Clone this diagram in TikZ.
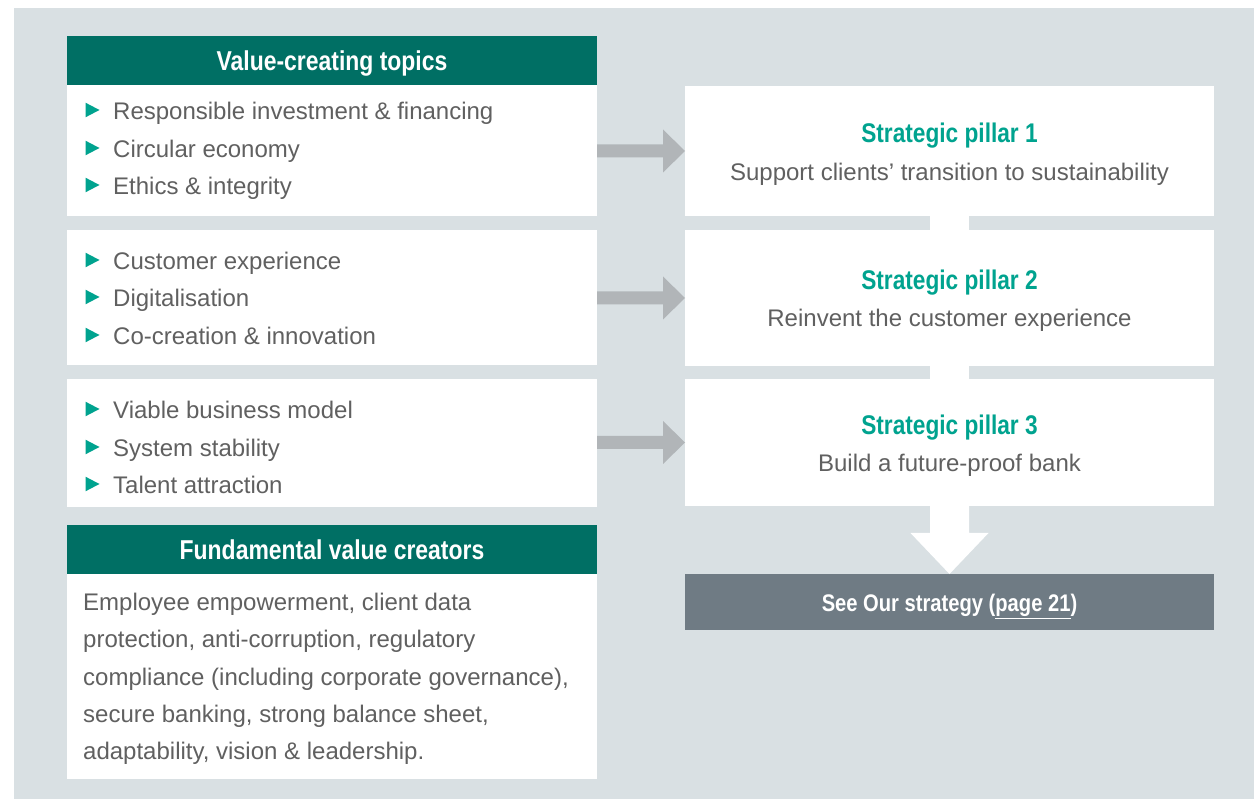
\documentclass[tikz,border=0pt]{standalone}
\usepackage{fontspec}
\setmainfont{Liberation Sans}
\newfontfamily\condfont[FakeStretch=0.84]{Liberation Sans}
\usetikzlibrary{calc}

\definecolor{panelbg}{RGB}{217,224,227}
\definecolor{headteal}{RGB}{0,111,100}
\definecolor{accent}{RGB}{0,163,143}
\definecolor{arrowgrey}{RGB}{177,181,184}
\definecolor{slate}{RGB}{111,123,132}
\definecolor{bodytext}{RGB}{96,96,96}

\tikzset{
  panel/.style={fill=white, inner sep=0pt, outer sep=0pt, anchor=north west},
  bodytxt/.style={font=\fontsize{24}{28}\selectfont, text=bodytext, inner sep=0pt, anchor=base west},
  subtxt/.style={font=\fontsize{24}{28}\selectfont, text=bodytext, inner sep=0pt, anchor=base},
  headtxt/.style={font=\condfont\bfseries\fontsize{27.3}{30}\selectfont, text=white, inner sep=0pt, anchor=base},
  pillartitle/.style={font=\condfont\bfseries\fontsize{27}{30}\selectfont, text=accent, inner sep=0pt, anchor=base},
  linktxt/.style={font=\condfont\bfseries\fontsize{24}{26}\selectfont, text=white, inner sep=0pt, anchor=base},
}

% horizontal block arrow from a topic box to its pillar
\newcommand\flowarrow[2]{%
  \fill[arrowgrey] ($(#1.east |- #2.west)+(0,-6.5)$) -- ($(#2.west)+(-22,-6.5)$)
    -- ($(#2.west)+(-22,-21.5)$) -- (#2.west) -- ($(#2.west)+(-22,21.5)$)
    -- ($(#2.west)+(-22,6.5)$) -- ($(#1.east |- #2.west)+(0,6.5)$) -- cycle;}

\begin{document}
\begin{tikzpicture}[x=1pt, y=-1pt]
  \useasboundingbox (0,0) rectangle (1254,799);
  \fill[white] (0,0) rectangle (1254,799);
  \fill[panelbg] (14,8) rectangle (1254,799);

  % left column
  \node[panel, fill=headteal, minimum width=530pt, minimum height=49pt] (h1) at (67,36) {};
  \node[headtxt] (h1t) at (332,70.5) {Value-creating topics};
  \node[panel, minimum width=530pt, minimum height=131pt] (l1) at (67,85) {};
  \node[panel, minimum width=530pt, minimum height=135pt] (l2) at (67,230) {};
  \node[panel, minimum width=530pt, minimum height=128pt] (l3) at (67,379) {};
  \node[panel, fill=headteal, minimum width=530pt, minimum height=49pt] (h2) at (67,525) {};
  \node[headtxt] (h2t) at (332,559.5) {Fundamental value creators};
  \node[panel, minimum width=530pt, minimum height=205pt] (l4) at (67,574) {};

  % bullet lists
  \foreach \n/\y/\t in {b11/119.5/Responsible investment \& financing,
                        b12/157.5/Circular economy,
                        b13/194.5/Ethics \& integrity,
                        b21/269.5/Customer experience,
                        b22/306.5/Digitalisation,
                        b23/344.5/Co-creation \& innovation,
                        b31/418.5/Viable business model,
                        b32/456.5/System stability,
                        b33/493.5/Talent attraction}{
    \node[bodytxt] (\n) at (113,\y) {\t};
    \fill[accent] (85.5,\y-16.8) -- (99.5,\y-9.5) -- (85.5,\y-2.2) -- cycle;
  }

  % fundamental value creators
  \node[bodytxt] (f1) at (83,610.5) {Employee empowerment, client data};
  \node[bodytxt] (f2) at (83,647.75) {protection, anti-corruption, regulatory};
  \node[bodytxt] (f3) at (83,685) {compliance (including corporate governance),};
  \node[bodytxt] (f4) at (83,722.25) {secure banking, strong balance sheet,};
  \node[bodytxt] (f5) at (83,759.5) {adaptability, vision \& leadership.};

  % strategic pillars
  \node[panel, minimum width=529pt, minimum height=130pt] (p1) at (685,86) {};
  \node[panel, minimum width=529pt, minimum height=136pt] (p2) at (685,230) {};
  \node[panel, minimum width=529pt, minimum height=127pt] (p3) at (685,379) {};
  \node[panel, fill=slate, minimum width=529pt, minimum height=56pt] (s) at (685,574) {};

  \node[pillartitle] (p1t) at (949.5,143) {Strategic pillar 1};
  \node[subtxt] (p1s) at (949.5,181) {Support clients’ transition to sustainability};
  \node[pillartitle] (p2t) at (949.5,290) {Strategic pillar 2};
  \node[subtxt] (p2s) at (949.5,327) {Reinvent the customer experience};
  \node[pillartitle] (p3t) at (949.5,435) {Strategic pillar 3};
  \node[subtxt] (p3s) at (949.5,472) {Build a future-proof bank};
  \node[linktxt] (st) at (949.5,611.5) {See Our strategy (\underline{page 21})};

  % connectors
  \flowarrow{l1}{p1}
  \flowarrow{l2}{p2}
  \flowarrow{l3}{p3}
  \draw[white, line width=39pt] (p1.south) -- (p2.north);
  \draw[white, line width=39pt] (p2.south) -- (p3.north);
  \fill[white] ($(p3.south)+(-19.5,0)$) -- ($(s.north)+(-19.5,-41)$)
    -- ($(s.north)+(-39,-41)$) -- (s.north) -- ($(s.north)+(39,-41)$)
    -- ($(s.north)+(19.5,-41)$) -- ($(p3.south)+(19.5,0)$) -- cycle;
\end{tikzpicture}
\end{document}
